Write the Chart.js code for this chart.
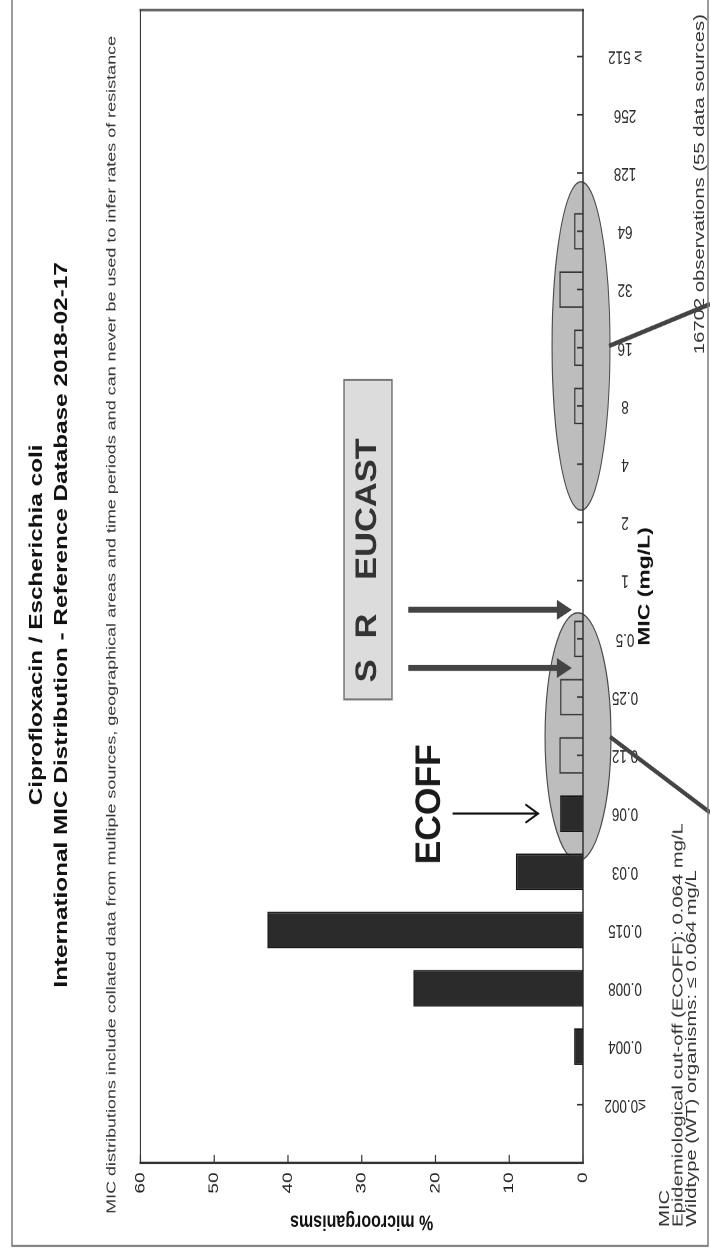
<!DOCTYPE html>
<html>
<head>
<meta charset="utf-8">
<title>Ciprofloxacin / Escherichia coli – MIC distribution</title>
<script src="https://cdn.jsdelivr.net/npm/chart.js@4.4.1/dist/chart.umd.min.js"></script>
<style>
  html, body { margin: 0; padding: 0; background: #fff; width: 710px; height: 1256px; overflow: hidden; }
  /* The chart is laid out in landscape, stretched along its width and turned a quarter turn. */
  #page {
    position: absolute; left: 0; top: 0; width: 930px; height: 710px;
    transform-origin: 0 0;
    transform: translate(0, 1256px) rotate(-90deg) scale(1.3505, 1);
    background: #fff;
  }
  canvas { display: block; }
</style>
</head>
<body>
<div id="page"><canvas id="mic" width="930" height="710"></canvas></div>
<script>
// MIC classes (mg/L) and share of isolates in each class (%)
const micLabels = ['≤0.002', '0.004', '0.008', '0.015', '0.03', '0.06', '0.12', '0.25', '0.5',
                   '1', '2', '4', '8', '16', '32', '64', '128', '256', '≥ 512'];
const percentOfIsolates = [0, 1.2, 23.0, 42.8, 9.1, 3.1, 3.2, 3.1, 1.2,
                           0, 0, 0, 1.2, 1.2, 3.2, 1.2, 0, 0, 0];
const valueTickStep = 10;
const valueMax = 60;

// Cut-offs
const ecoffClass = '0.06';
const breakpointS = '0.25';
const breakpointR = '0.5';

// Texts
const titleLines = ['Ciprofloxacin / Escherichia coli',
                    'International MIC Distribution - Reference Database 2018-02-17'];
const noteText = 'MIC distributions include collated data from multiple sources, geographical areas and time periods and can never be used to infer rates of resistance';
const valueAxisTitle = '% microorganisms';
const micAxisTitle = 'MIC (mg/L)';
const footLines = ['MIC', 'Epidemiological cut-off (ECOFF): 0.064 mg/L', 'Wildtype (WT) organisms: ≤ 0.064 mg/L'];
const observationsText = '16702 observations (55 data sources)';

const FAMILY = "'Liberation Sans', Arial, Helvetica, sans-serif";
Chart.defaults.font.family = FAMILY;
Chart.defaults.color = '#222';

const ecoffIndex = micLabels.indexOf(ecoffClass);
const sIndex = micLabels.indexOf(breakpointS);
const rIndex = micLabels.indexOf(breakpointR);
const barPoints = percentOfIsolates.map((v, i) => ({ x: i, y: v }));

function textAt(ctx, str, x, y, font, color, align, squeeze, rotation) {
  ctx.save();
  ctx.translate(x, y);
  if (rotation) ctx.rotate(rotation);
  if (squeeze) ctx.scale(squeeze, 1);
  ctx.font = font;
  ctx.fillStyle = color;
  ctx.textAlign = align || 'center';
  ctx.textBaseline = 'middle';
  ctx.fillText(str, 0, 0);
  ctx.restore();
}

const micDecor = {
  id: 'micDecor',
  beforeDatasetsDraw(chart) {
    const { ctx, chartArea: a, scales: { x: xs, y: ys } } = chart;
    const X = v => xs.getPixelForValue(v);
    const Y = v => ys.getPixelForValue(v);
    ctx.save();

    // grey ellipses around the wild-type tail and the resistant group
    const shapes = [
      { c: 6.32, h: 2.13, m: 0.68, s: 4.47 },
      { c: 13.03, h: 2.82, m: 0.27, s: 3.93 }
    ];
    chart.$ellipses = shapes.map(e => {
      const cx = X(e.c), rx = Math.abs(X(e.c + e.h) - cx);
      const cy = Y(e.m), ry = Math.abs(Y(e.m - e.s) - cy);
      ctx.beginPath();
      ctx.ellipse(cx, cy, rx, ry, 0, 0, Math.PI * 2);
      ctx.fillStyle = '#bdbdbd';
      ctx.fill();
      ctx.lineWidth = 1.1;
      ctx.strokeStyle = '#4a4a4a';
      ctx.stroke();
      return { cx, cy, rx, ry };
    });

    // plot frame
    ctx.lineCap = 'square';
    ctx.strokeStyle = '#666'; ctx.lineWidth = 2;
    ctx.beginPath(); ctx.moveTo(a.right, a.top); ctx.lineTo(a.right, a.bottom); ctx.stroke();
    ctx.strokeStyle = '#3a3a3a'; ctx.lineWidth = 1.2;
    ctx.beginPath(); ctx.moveTo(a.left, a.top); ctx.lineTo(a.right, a.top); ctx.stroke();
    ctx.strokeStyle = '#333'; ctx.lineWidth = 1.5;
    ctx.beginPath(); ctx.moveTo(a.left, a.bottom); ctx.lineTo(a.right, a.bottom); ctx.stroke();
    ctx.lineWidth = 1.8;
    ctx.beginPath(); ctx.moveTo(a.left, a.top); ctx.lineTo(a.left, a.bottom); ctx.stroke();

    // inward tick marks
    ctx.lineWidth = 1.2; ctx.strokeStyle = '#333'; ctx.lineCap = 'butt';
    ys.ticks.forEach(t => {
      const p = Y(t.value);
      ctx.beginPath(); ctx.moveTo(a.left, p); ctx.lineTo(a.left + 6, p); ctx.stroke();
    });
    micLabels.forEach((_, i) => {
      const p = X(i);
      ctx.beginPath(); ctx.moveTo(p, a.bottom); ctx.lineTo(p, a.bottom - 6); ctx.stroke();
    });
    ctx.restore();
  },
  afterDatasetsDraw(chart) {
    const { ctx, chartArea: a, scales: { x: xs, y: ys }, width: W, height: H } = chart;
    const X = v => xs.getPixelForValue(v);
    const Y = v => ys.getPixelForValue(v);
    ctx.save();

    // MIC class labels
    micLabels.forEach((lab, i) => {
      textAt(ctx, lab, X(i), 625, '13.5px ' + FAMILY, '#2a2a2a', 'center', 0, -Math.PI / 2);
    });

    // EUCAST breakpoint box
    const bx0 = X(6.96), bx1 = X(12.45), by0 = Y(32.4), by1 = Y(25.9);
    ctx.fillStyle = '#dcdcdc';
    ctx.fillRect(bx0, by0, bx1 - bx0, by1 - by0);
    ctx.strokeStyle = '#777'; ctx.lineWidth = 1.5;
    ctx.strokeRect(bx0, by0, bx1 - bx0, by1 - by0);
    const boxMid = Y(29.2);
    const boxFont = 'bold 30px ' + FAMILY;
    textAt(ctx, 'S', X(7.45), boxMid, boxFont, '#333', 'center', 0.85);
    textAt(ctx, 'R', X(8.22), boxMid, boxFont, '#333', 'center', 0.85);
    textAt(ctx, 'EUCAST', X(10.23), boxMid, boxFont, '#333', 'center', 0.85);

    // S and R arrows between MIC classes
    function blockArrow(u, v0, v1) {
      const shaft = 4.4, headLen = 15, half = 7.4;
      ctx.beginPath();
      ctx.moveTo(u - shaft / 2, v0);
      ctx.lineTo(u - shaft / 2, v1 - headLen);
      ctx.lineTo(u - half, v1 - headLen);
      ctx.lineTo(u, v1);
      ctx.lineTo(u + half, v1 - headLen);
      ctx.lineTo(u + shaft / 2, v1 - headLen);
      ctx.lineTo(u + shaft / 2, v0);
      ctx.closePath();
      ctx.fillStyle = '#444';
      ctx.fill();
    }
    blockArrow(X(sIndex + 0.5), Y(23.7), Y(1.5));
    blockArrow(X(rIndex + 0.5), Y(23.7), Y(1.5));

    // ECOFF label and arrow
    textAt(ctx, 'ECOFF', X(5.16), Y(20.7), 'bold 35px ' + FAMILY, '#1a1a1a', 'center', 0.75);
    const eu = X(ecoffIndex), ev0 = Y(17.6), ev1 = Y(6.1);
    ctx.strokeStyle = '#111'; ctx.lineWidth = 1.6; ctx.lineCap = 'round';
    ctx.beginPath(); ctx.moveTo(eu, ev0); ctx.lineTo(eu, ev1); ctx.stroke();
    ctx.beginPath(); ctx.moveTo(eu - 6.5, ev1 - 12); ctx.lineTo(eu, ev1); ctx.lineTo(eu + 6.5, ev1 - 12); ctx.stroke();

    // notes beside the axis
    const noteFont = '15px ' + FAMILY;
    const rows = [665, 678.5, 692];
    footLines.forEach((t, k) => textAt(ctx, t, 21.5, rows[k], noteFont, '#333', 'left'));
    textAt(ctx, observationsText, X(12.89), 700, noteFont, '#333', 'left');

    // connector lines from the ellipses towards the notes
    const el = chart.$ellipses || [];
    ctx.strokeStyle = '#444'; ctx.lineWidth = 3.4; ctx.lineCap = 'butt';
    if (el[0]) {
      ctx.beginPath(); ctx.moveTo(el[0].cx, el[0].cy + el[0].ry - 1); ctx.lineTo(X(5.02), H); ctx.stroke();
    }
    if (el[1]) {
      ctx.beginPath(); ctx.moveTo(el[1].cx, el[1].cy + el[1].ry - 1); ctx.lineTo(X(13.75), H); ctx.stroke();
    }

    // outer frame
    ctx.strokeStyle = '#7a7a7a'; ctx.lineWidth = 1.5;
    ctx.beginPath();
    ctx.moveTo(W + 5, 12); ctx.lineTo(7.4, 12); ctx.lineTo(7.4, 708); ctx.lineTo(W + 5, 708);
    ctx.stroke();
    ctx.restore();
  }
};

new Chart(document.getElementById('mic'), {
  type: 'bar',
  data: {
    datasets: [{
      data: barPoints,
      backgroundColor: barPoints.map((p, i) => i <= ecoffIndex ? '#2b2b2b' : 'rgba(0,0,0,0)'),
      borderColor: barPoints.map((p, i) => i <= ecoffIndex ? '#161616' : '#333'),
      borderWidth: 1.2,
      barPercentage: 0.63,
      categoryPercentage: 1
    }]
  },
  options: {
    responsive: false,
    devicePixelRatio: 2,
    animation: false,
    layout: { padding: { left: 12, right: 7.4, top: 0, bottom: 0 } },
    plugins: {
      legend: { display: false },
      tooltip: { enabled: false },
      title: {
        display: true, text: titleLines, color: '#111',
        font: { size: 18, weight: 'bold', lineHeight: '25px' },
        padding: { top: 24.5, bottom: 8 }
      },
      subtitle: {
        display: true, text: noteText, color: '#333',
        font: { size: 13.3, lineHeight: 1.2 },
        padding: { top: 21.5, bottom: 20.5 }
      }
    },
    scales: {
      x: {
        type: 'linear', min: -1, max: 18.8, offset: false,
        grid: { display: false, drawTicks: false },
        border: { display: false },
        ticks: { display: false, stepSize: 1 },
        title: {
          display: true, text: micAxisTitle, color: '#111',
          font: { size: 17, weight: 'bold' },
          padding: { top: 51.8, bottom: 54.8 }
        }
      },
      y: {
        min: 0, max: valueMax,
        grid: { display: false, drawTicks: false },
        border: { display: false },
        ticks: { stepSize: valueTickStep, padding: 7, font: { size: 14 }, color: '#222' },
        title: {
          display: true, text: valueAxisTitle, color: '#111',
          font: { size: 16, weight: 'bold' },
          padding: { top: 4, bottom: 4.1 }
        }
      }
    }
  },
  plugins: [micDecor]
});
</script>
</body>
</html>
